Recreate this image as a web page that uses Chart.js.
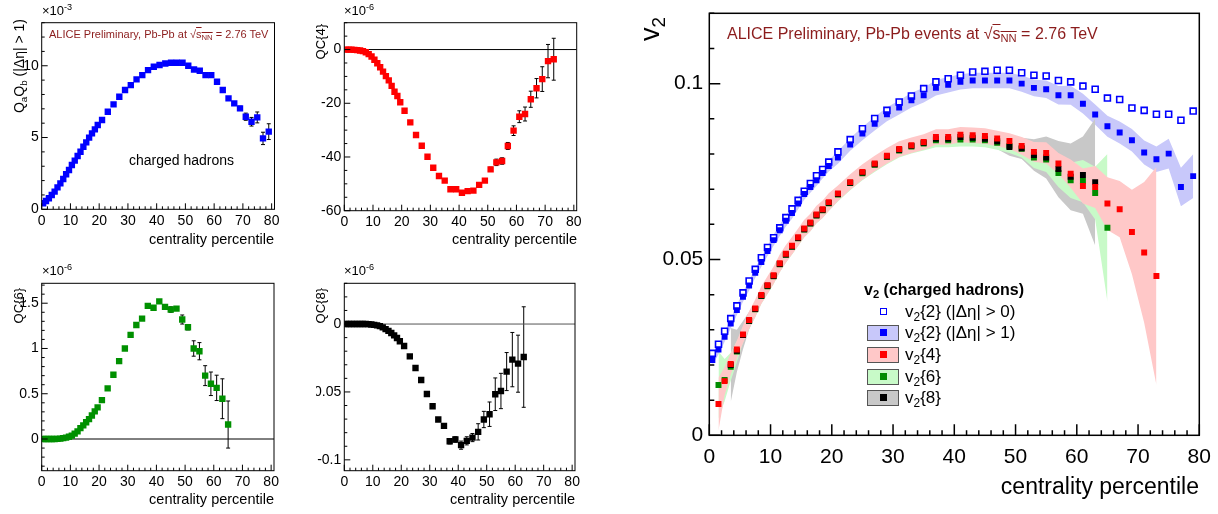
<!DOCTYPE html>
<html>
<head>
<meta charset="utf-8">
<script src="https://cdn.jsdelivr.net/npm/chart.js@4.4.1/dist/chart.umd.min.js"></script>
<style>
  body { margin: 0; width: 1218px; height: 514px; background: #fff; position: relative; overflow: hidden;
         font-family: "Liberation Sans", Arial, sans-serif; }
  canvas { position: absolute; }
  .t { position: absolute; white-space: nowrap; line-height: 1; color: #000; z-index: 5; }
  .rot { transform: rotate(-90deg); transform-origin: 0 0; text-align: right; }
  .t sub { font-size: 70%; vertical-align: -0.3em; line-height: 0; }
  .t sup { font-size: 70%; vertical-align: 0.5em; line-height: 0; }
  .ov { text-decoration: overline; }
  .red { color: #8b1c1c; }
  .box { position: absolute; box-sizing: border-box; width: 32px; height: 16px; border: 1px solid #555; z-index: 5; }
  .mk { position: absolute; width: 7px; height: 7px; z-index: 6; box-sizing: border-box; }
</style>
</head>
<body>

<!-- small panels: titles and labels -->
<div class="t" style="left:42px;top:4px;font-size:13px">&times;10<sup>-3</sup></div>
<div class="t rot" style="left:12px;top:169px;width:150px;font-size:14px">Q<sub>a</sub>Q<sub>b</sub> (|&Delta;&eta;| &gt; 1)</div>
<div class="t red" style="left:49px;top:29px;font-size:11px">ALICE Preliminary, Pb-Pb at &radic;<span class="ov">s<sub>NN</sub></span> = 2.76 TeV</div>
<div class="t" style="left:129px;top:153px;font-size:14px">charged hadrons</div>
<div class="t" style="left:74px;top:232px;width:200px;text-align:right;font-size:14.5px">centrality percentile</div>

<div class="t" style="left:344px;top:4px;font-size:13px">&times;10<sup>-6</sup></div>
<div class="t rot" style="left:314px;top:84px;width:60px;font-size:13px">QC{4}</div>
<div class="t" style="left:377px;top:232px;width:200px;text-align:right;font-size:14.5px">centrality percentile</div>

<div class="t" style="left:42px;top:264px;font-size:13px">&times;10<sup>-6</sup></div>
<div class="t rot" style="left:12px;top:348px;width:60px;font-size:13px">QC{6}</div>
<div class="t" style="left:74px;top:492px;width:200px;text-align:right;font-size:14.5px">centrality percentile</div>

<div class="t" style="left:344px;top:264px;font-size:13px">&times;10<sup>-6</sup></div>
<div class="t rot" style="left:314px;top:348px;width:60px;font-size:13px">QC{8}</div>
<div class="t" style="left:375px;top:492px;width:200px;text-align:right;font-size:14.5px">centrality percentile</div>

<!-- big panel -->
<div class="t rot" style="left:637px;top:57px;width:40px;font-size:27px">v<sub>2</sub></div>
<div class="t red" style="left:727px;top:26px;font-size:16px">ALICE Preliminary, Pb-Pb events at &radic;<span class="ov">s<sub>NN</sub></span> = 2.76 TeV</div>
<div class="t" style="left:899px;top:475px;width:300px;text-align:right;font-size:23px">centrality percentile</div>

<div class="t" style="left:864px;top:282px;font-size:16px;font-weight:bold">v<sub>2</sub> (charged hadrons)</div>
<div class="mk" style="left:880px;top:308px;border:1.5px solid #0000ff;background:#fff"></div>
<div class="t" style="left:905px;top:303px;font-size:17px">v<sub>2</sub>{2} (|&Delta;&eta;| &gt; 0)</div>
<div class="box" style="left:867px;top:325px;background:#c8c8fa"></div>
<div class="mk" style="left:880px;top:329px;background:#0000ff"></div>
<div class="t" style="left:905px;top:324px;font-size:17px">v<sub>2</sub>{2} (|&Delta;&eta;| &gt; 1)</div>
<div class="box" style="left:867px;top:347px;background:#ffc8c8"></div>
<div class="mk" style="left:880px;top:351px;background:#ff0000"></div>
<div class="t" style="left:905px;top:346px;font-size:17px">v<sub>2</sub>{4}</div>
<div class="box" style="left:867px;top:369px;background:#c8fac8"></div>
<div class="mk" style="left:880px;top:373px;background:#008c00"></div>
<div class="t" style="left:905px;top:368px;font-size:17px">v<sub>2</sub>{6}</div>
<div class="box" style="left:867px;top:390px;background:#c8c8c8"></div>
<div class="mk" style="left:880px;top:394px;background:#000"></div>
<div class="t" style="left:905px;top:389px;font-size:17px">v<sub>2</sub>{8}</div>

<script>
// centrality bin centres: 1% bins up to 20%, 2% bins above
const cent = [0.5, 1.5, 2.5, 3.5, 4.5, 5.5, 6.5, 7.5, 8.5, 9.5,
  10.5, 11.5, 12.5, 13.5, 14.5, 15.5, 16.5, 17.5, 18.5, 19.5,
  21, 23, 25, 27, 29, 31, 33, 35, 37, 39,
  41, 43, 45, 47, 49, 51, 53, 55, 57, 59,
  61, 63, 65, 67, 69, 71, 73, 75, 77, 79];

// QaQb (x10^-3)
const qaqb = [0.42, 0.58, 0.77, 1.0, 1.23, 1.53, 1.81, 2.11, 2.44, 2.74,
  3.09, 3.39, 3.71, 4.01, 4.36, 4.66, 4.99, 5.29, 5.57, 5.87,
  6.22, 6.80, 7.31, 7.84, 8.31, 8.65, 9.05, 9.35, 9.70, 9.93,
  10.05, 10.16, 10.21, 10.21, 10.21, 10.0, 9.74, 9.65, 9.35, 9.35,
  8.89, 8.31, 7.73, 7.38, 7.03, 6.45, 6.10, 6.40, 4.94, 5.41];
const qaqbErr = [0, 0, 0, 0, 0, 0, 0, 0, 0, 0, 0, 0, 0, 0, 0, 0, 0, 0, 0, 0,
  0, 0, 0, 0, 0, 0, 0, 0, 0, 0, 0, 0, 0, 0, 0, 0, 0, 0, 0, 0,
  0, 0, 0, 0, 0.15, 0.25, 0.3, 0.38, 0.43, 0.55];

// QC{4} (x10^-6)
const qc4 = [0, 0, -0.05, -0.1, -0.2, -0.35, -0.6, -1.0, -1.7, -2.6,
  -3.8, -5.1, -6.6, -8.2, -9.9, -11.5, -13.5, -15.7, -17.3, -19.6,
  -22.8, -27.1, -31.8, -35.8, -39.9, -44.0, -47.1, -48.8, -52.0, -52.0,
  -53.3, -52.7, -52.5, -50.4, -48.8, -44.6, -42.0, -41.5, -35.9, -30.2,
  -25.0, -24.0, -18.5, -14.4, -11.0, -4.3, -3.6];
const qc4Err = [0, 0, 0, 0, 0, 0, 0, 0, 0, 0, 0, 0, 0, 0, 0, 0, 0, 0, 0, 0,
  0, 0, 0, 0, 0, 0, 0, 0, 0, 0, 0, 0, 0, 0, 0.6,
  0.8, 1.2, 1.2, 1.3, 1.8, 2.2, 2.6, 3.0, 3.6, 4.6, 6.2, 7.8];

// QC{6} (x10^-6)
const qc6 = [0, 0, 0, 0, 0, 0.002, 0.005, 0.01, 0.016, 0.025,
  0.037, 0.06, 0.085, 0.12, 0.15, 0.185, 0.22, 0.26, 0.305, 0.35,
  0.43, 0.56, 0.71, 0.86, 1.0, 1.15, 1.26, 1.33, 1.47, 1.45,
  1.52, 1.46, 1.43, 1.44, 1.32, 1.235, 1.0, 0.97, 0.70, 0.61,
  0.565, 0.445, 0.16];
const qc6Err = [0, 0, 0, 0, 0, 0, 0, 0, 0, 0, 0, 0, 0, 0, 0, 0, 0, 0, 0, 0,
  0, 0, 0, 0, 0, 0, 0, 0, 0, 0, 0,
  0.02, 0.03, 0.02, 0.05, 0.03, 0.085, 0.095, 0.11, 0.13, 0.14, 0.22, 0.26];

// QC{8} (x10^-6)
const qc8 = [0, 0, 0, 0, 0, 0, 0, 0, -0.0001, -0.0003,
  -0.0006, -0.001, -0.0015, -0.0025, -0.0037, -0.005, -0.0066, -0.0083, -0.0103, -0.0127,
  -0.0162, -0.0238, -0.0324, -0.0412, -0.0515, -0.0605, -0.0703, -0.075, -0.0863, -0.085,
  -0.0892, -0.086, -0.0836, -0.0794, -0.0703, -0.0664, -0.0517, -0.0493, -0.035, -0.0262,
  -0.0292, -0.0243];
const qc8Err = [0, 0, 0, 0, 0, 0, 0, 0, 0, 0, 0, 0, 0, 0, 0, 0, 0, 0, 0, 0,
  0, 0, 0, 0, 0, 0, 0, 0,
  0.002, 0.002, 0.003, 0.003, 0.003, 0.006, 0.006, 0.009, 0.012, 0.013, 0.014, 0.02, 0.021, 0.037];

// v2 results
const v2gap0 = [0.0233, 0.0259, 0.0296, 0.0332, 0.0368, 0.0405, 0.0439, 0.0472, 0.0505, 0.0534,
  0.0562, 0.0590, 0.0619, 0.0644, 0.0668, 0.0694, 0.0716, 0.0738, 0.0756, 0.0777,
  0.0806, 0.0841, 0.0872, 0.0901, 0.0924, 0.0948, 0.0965, 0.0986, 0.1005, 0.1014,
  0.1024, 0.1033, 0.1035, 0.1038, 0.1038, 0.1031, 0.1024, 0.1022, 0.1009, 0.1005,
  0.0993, 0.0984, 0.0959, 0.0955, 0.0931, 0.0924, 0.0913, 0.0913, 0.0896, 0.0922];
const v2gap1 = [0.0214, 0.0244, 0.0280, 0.0318, 0.0356, 0.0394, 0.0426, 0.0462, 0.0493, 0.0524,
  0.0555, 0.0583, 0.0610, 0.0632, 0.0659, 0.0686, 0.0706, 0.0725, 0.0746, 0.0766,
  0.0790, 0.0827, 0.0858, 0.0886, 0.0913, 0.0932, 0.0953, 0.0967, 0.0988, 0.0997,
  0.1005, 0.1009, 0.1009, 0.1009, 0.1009, 0.1000, 0.0988, 0.0984, 0.0967, 0.0967,
  0.0943, 0.0912, 0.0879, 0.0861, 0.0839, 0.0804, 0.0785, 0.0801, 0.0706, 0.0737];
const v2gap1Sys = [0.0014, 0.0014, 0.0014, 0.0014, 0.0014, 0.0014, 0.0014, 0.0014, 0.0014, 0.0014,
  0.0016, 0.0016, 0.0016, 0.0016, 0.0016, 0.0016, 0.0016, 0.0016, 0.0016, 0.0016,
  0.0018, 0.0018, 0.0019, 0.0019, 0.002, 0.002, 0.0021, 0.0021, 0.0022, 0.0022,
  0.0022, 0.0022, 0.0022, 0.0022, 0.0022, 0.0023, 0.0024, 0.0025, 0.0026, 0.0027,
  0.0028, 0.0029, 0.003, 0.0031, 0.0032, 0.0034, 0.0036, 0.0042, 0.0055, 0.0062];
const v24 = [null, 0.0089, 0.0154, 0.0203, 0.0244, 0.0287, 0.0328, 0.0361, 0.0399, 0.0427,
  0.0455, 0.0489, 0.0516, 0.0539, 0.0563, 0.0588, 0.0605, 0.0628, 0.0643, 0.0663,
  0.0688, 0.0720, 0.0749, 0.0773, 0.0795, 0.0814, 0.0825, 0.0834, 0.0848, 0.0848,
  0.0855, 0.0853, 0.0851, 0.0844, 0.0837, 0.0823, 0.0806, 0.0803, 0.0773, 0.0744,
  0.0709, 0.0706, 0.0659, 0.0643, 0.0578, 0.0520, 0.0453];
const v24Sys = [0, 0.0075, 0.004, 0.003, 0.0025, 0.0025, 0.0025, 0.0025, 0.0025, 0.0025,
  0.0025, 0.0025, 0.0025, 0.0025, 0.0025, 0.0025, 0.0025, 0.0025, 0.0025, 0.0025,
  0.0022, 0.0022, 0.0022, 0.0022, 0.0022, 0.0022, 0.0022, 0.0022, 0.0022, 0.0022,
  0.0022, 0.0022, 0.0022, 0.0022, 0.0022, 0.0025, 0.0028, 0.003, 0.003, 0.004,
  0.005, 0.006, 0.0075, 0.008, 0.012, 0.02, 0.031];
const v26 = [null, 0.0143, 0.0157, 0.0195, 0.0238, 0.0285, 0.0325, 0.0358, 0.0396, 0.0424,
  0.0452, 0.0486, 0.0513, 0.0536, 0.0560, 0.0585, 0.0602, 0.0625, 0.0640, 0.0660,
  0.0685, 0.0717, 0.0745, 0.0769, 0.0791, 0.0810, 0.0821, 0.0830, 0.0839, 0.0839,
  0.0841, 0.0841, 0.0839, 0.0832, 0.0823, 0.0815, 0.0790, 0.0784, 0.0746, 0.0725,
  0.0723, 0.0689, 0.0590];
const v26Sys = [0, 0.0095, 0.006, 0.004, 0.003, 0.0022, 0.0022, 0.0022, 0.0022, 0.0022,
  0.0022, 0.0022, 0.0022, 0.0022, 0.0022, 0.0022, 0.0022, 0.0022, 0.0022, 0.0022,
  0.002, 0.002, 0.002, 0.002, 0.002, 0.002, 0.002, 0.002, 0.002, 0.002,
  0.002, 0.002, 0.002, 0.002, 0.002, 0.0025, 0.003, 0.0035, 0.004, 0.005,
  0.006, 0.0075, 0.021];
const v28 = [null, null, null, 0.0200, 0.0240, 0.0285, 0.0326, 0.0359, 0.0397, 0.0425,
  0.0453, 0.0487, 0.0514, 0.0537, 0.0561, 0.0586, 0.0603, 0.0626, 0.0641, 0.0661,
  0.0686, 0.0718, 0.0747, 0.0771, 0.0793, 0.0812, 0.0823, 0.0832, 0.0843, 0.0843,
  0.0848, 0.0846, 0.0843, 0.0836, 0.0820, 0.0816, 0.0797, 0.0790, 0.0757, 0.0735,
  0.0740, 0.0720];
const v28Sys = [0, 0, 0, 0.0105, 0.006, 0.004, 0.0025, 0.002, 0.002, 0.002,
  0.002, 0.002, 0.002, 0.002, 0.002, 0.002, 0.002, 0.002, 0.002, 0.002,
  0.0018, 0.0018, 0.0018, 0.0018, 0.0018, 0.0018, 0.0018, 0.0018, 0.0018, 0.0018,
  0.0018, 0.0018, 0.002, 0.0022, 0.0025, 0.003, 0.0045, 0.006, 0.008, 0.0095,
  0.011, 0.018];

Chart.defaults.font.family = '"Liberation Sans", Arial, sans-serif';
Chart.defaults.color = '#000';

function pts(vals, errs, shift) {
  const out = [];
  vals.forEach((v, i) => {
    if (v === null) return;
    const e = errs ? errs[i] : 0;
    out.push({ x: cent[i], y: v + (shift || 0) * e, e: e });
  });
  return out;
}

function markers(data, color, r) {
  return { data: data, showLine: false, pointStyle: 'rect', pointRadius: r,
    pointBackgroundColor: color, pointBorderColor: color, pointBorderWidth: 0 };
}

function bandPair(vals, sys, color) {
  return [
    { data: pts(vals, sys, 1), pointRadius: 0, borderWidth: 0, borderColor: 'transparent', fill: false },
    { data: pts(vals, sys, -1), pointRadius: 0, borderWidth: 0, borderColor: 'transparent',
      fill: '-1', backgroundColor: color }
  ];
}

function zeroLine(xmax, color) {
  return { data: [{ x: 0, y: 0 }, { x: xmax, y: 0 }], borderColor: color, borderWidth: 1,
    pointRadius: 0, fill: false };
}

function eachTick(min, max, step, major, fn) {
  const k0 = Math.ceil(min / step - 1e-6), k1 = Math.floor(max / step + 1e-6);
  for (let k = k0; k <= k1; k++) {
    const v = k * step, r = v / major;
    fn(v, Math.abs(r - Math.round(r)) < 1e-6);
  }
}

// ROOT style frame with inward ticks
const frameTicks = {
  id: 'frameTicks',
  afterDraw(chart, args, o) {
    const { ctx, chartArea: a } = chart;
    const x = chart.scales.x, y = chart.scales.y;
    ctx.save();
    ctx.strokeStyle = '#000';
    ctx.lineWidth = o.lw;
    ctx.strokeRect(a.left, a.top, a.right - a.left, a.bottom - a.top);
    ctx.beginPath();
    eachTick(x.min, x.max, o.xMinor, o.xMajor, (v, big) => {
      const px = x.getPixelForValue(v);
      ctx.moveTo(px, a.bottom);
      ctx.lineTo(px, a.bottom - (big ? o.major : o.minor));
    });
    eachTick(y.min, y.max, o.yMinor, o.yMajor, (v, big) => {
      const py = y.getPixelForValue(v);
      ctx.moveTo(a.left, py);
      ctx.lineTo(a.left + (big ? o.major : o.minor), py);
    });
    ctx.stroke();
    ctx.restore();
  }
};

const errorBars = {
  id: 'errorBars',
  beforeDatasetsDraw(chart) {
    const { ctx } = chart;
    const x = chart.scales.x, y = chart.scales.y;
    ctx.save();
    ctx.strokeStyle = '#000';
    ctx.lineWidth = 1;
    chart.data.datasets.forEach(ds => {
      if (!ds.errorBars) return;
      ds.data.forEach(p => {
        if (!p.e) return;
        const px = x.getPixelForValue(p.x);
        const y1 = y.getPixelForValue(p.y + p.e), y2 = y.getPixelForValue(p.y - p.e);
        ctx.beginPath();
        ctx.moveTo(px, y1); ctx.lineTo(px, y2);
        ctx.moveTo(px - 2, y1); ctx.lineTo(px + 2, y1);
        ctx.moveTo(px - 2, y2); ctx.lineTo(px + 2, y2);
        ctx.stroke();
      });
    });
    ctx.restore();
  }
};

function fmt(v) {
  return String(+v.toFixed(3));
}

function makePanel(box, area, cfg) {
  const c = document.createElement('canvas');
  c.width = box.w; c.height = box.h;
  c.style.left = box.x + 'px'; c.style.top = box.y + 'px';
  document.body.appendChild(c);
  const xh = cfg.xh;
  return new Chart(c, {
    type: 'line',
    data: { datasets: cfg.datasets },
    options: {
      responsive: false,
      animation: false,
      events: [],
      layout: { padding: { left: 0, top: area.t - box.y, right: box.x + box.w - area.r,
        bottom: box.y + box.h - area.b - xh } },
      plugins: { legend: { display: false }, tooltip: { enabled: false }, frameTicks: cfg.ticks },
      scales: {
        x: {
          type: 'linear', min: cfg.xmin, max: cfg.xmax,
          grid: { display: false, drawTicks: false }, border: { display: false },
          ticks: { stepSize: 10, includeBounds: false, autoSkip: false, maxRotation: 0,
            padding: cfg.xpad, font: { size: cfg.fs }, callback: fmt },
          afterFit: s => { s.height = xh; s.paddingLeft = 0; s.paddingRight = 0; }
        },
        y: {
          type: 'linear', min: cfg.ymin, max: cfg.ymax,
          grid: { display: false, drawTicks: false }, border: { display: false },
          ticks: { stepSize: cfg.ystep, includeBounds: false, autoSkip: false,
            padding: cfg.ypad, font: { size: cfg.fs }, callback: fmt },
          afterFit: s => { s.width = area.l - box.x; s.paddingTop = 0; s.paddingBottom = 0; }
        }
      }
    },
    plugins: [frameTicks, errorBars]
  });
}

const smallTicks = (yMinor, yMajor) => ({ lw: 1, xMinor: 2, xMajor: 10, yMinor: yMinor, yMajor: yMajor, major: 6, minor: 3 });

// top-left: QaQb
makePanel({ x: 0, y: 0, w: 292, h: 255 }, { l: 41.7, t: 22.7, r: 274.5, b: 209.3 }, {
  xmin: 0, xmax: 81, ymin: 0, ymax: 13, ystep: 5, fs: 14, xpad: 3, ypad: 3, xh: 20,
  ticks: smallTicks(1, 5),
  datasets: [Object.assign(markers(pts(qaqb, qaqbErr), '#0000ff', 4.5), { errorBars: true })]
});

// top-middle: QC{4}
makePanel({ x: 300, y: 0, w: 292, h: 255 }, { l: 344.3, t: 22.7, r: 576.7, b: 210.7 }, {
  xmin: 0, xmax: 81, ymin: -60, ymax: 10, ystep: 20, fs: 14, xpad: 3, ypad: 3, xh: 20,
  ticks: smallTicks(5, 20),
  datasets: [Object.assign(markers(pts(qc4, qc4Err), '#ff0000', 4.5), { errorBars: true }),
    zeroLine(81, '#000')]
});

// bottom-left: QC{6}
makePanel({ x: 0, y: 260, w: 292, h: 254 }, { l: 41.7, t: 283.3, r: 274, b: 470.7 }, {
  xmin: 0, xmax: 81, ymin: -0.35, ymax: 1.72, ystep: 0.5, fs: 14, xpad: 3, ypad: 3, xh: 20,
  ticks: smallTicks(0.1, 0.5),
  datasets: [Object.assign(markers(pts(qc6, qc6Err), '#009000', 4.5), { errorBars: true }),
    zeroLine(81, '#000')]
});

// bottom-middle: QC{8} (panel edge cuts the minus of -0.05, as in the original)
makePanel({ x: 316, y: 260, w: 276, h: 254 }, { l: 344.3, t: 283.3, r: 575, b: 470.7 }, {
  xmin: 0, xmax: 81, ymin: -0.108, ymax: 0.03, ystep: 0.05, fs: 14, xpad: 3, ypad: 3, xh: 20,
  ticks: smallTicks(0.01, 0.05),
  datasets: [Object.assign(markers(pts(qc8, qc8Err), '#000', 4.5), { errorBars: true }),
    zeroLine(81, '#555')]
});

// right: v2 vs centrality
const openBlue = markers(pts(v2gap0), '#0000ff', 4.2);
openBlue.pointBackgroundColor = '#fff';
openBlue.pointBorderWidth = 1.6;

makePanel({ x: 640, y: 0, w: 578, h: 514 }, { l: 709.3, t: 13.3, r: 1199.3, b: 435.3 }, {
  xmin: 0, xmax: 80, ymin: 0, ymax: 0.12, ystep: 0.05, fs: 21, xpad: 9, ypad: 6, xh: 32,
  ticks: { lw: 1.5, xMinor: 2, xMajor: 10, yMinor: 0.01, yMajor: 0.05, major: 11, minor: 5 },
  datasets: [
    markers(pts(v24), '#ff0000', 4.2),
    markers(pts(v28), '#000', 4.2),
    markers(pts(v26), '#008c00', 4.2),
    markers(pts(v2gap1), '#0000ff', 4.2),
    openBlue,
    ...bandPair(v24, v24Sys, '#ffc8c8'),
    ...bandPair(v26, v26Sys, '#c8fac8'),
    ...bandPair(v28, v28Sys, '#c8c8c8'),
    ...bandPair(v2gap1, v2gap1Sys, '#c8c8fa')
  ]
});
</script>
</body>
</html>
